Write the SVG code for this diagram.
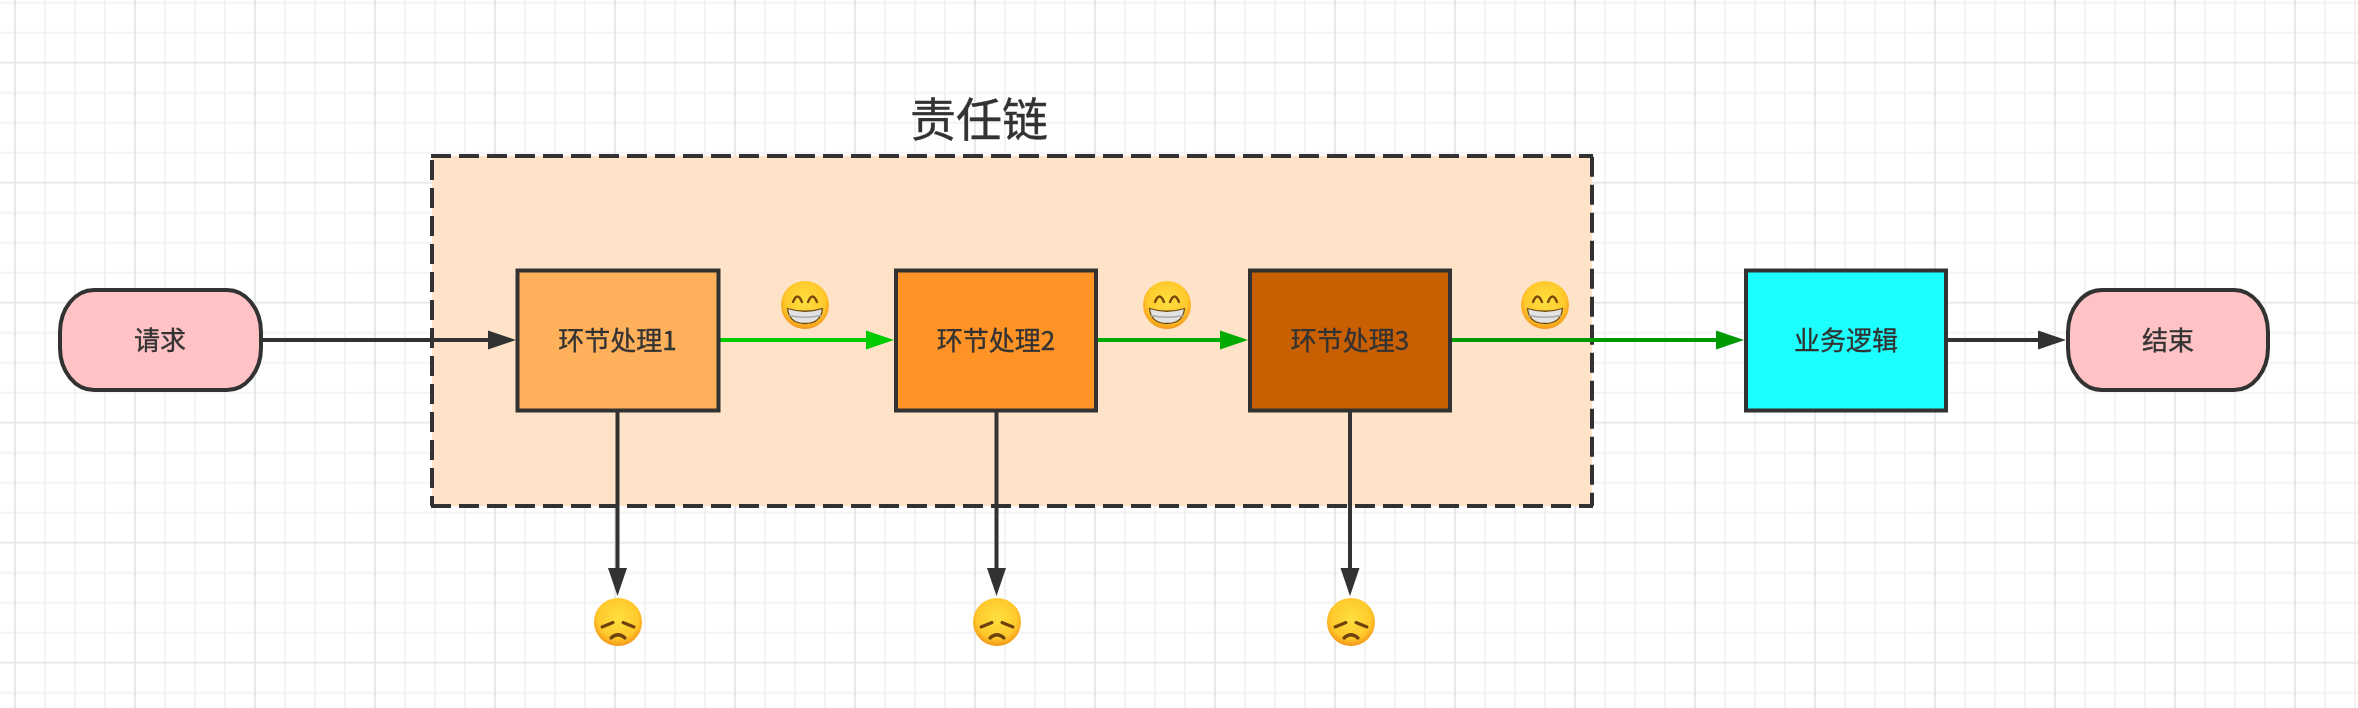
<svg xmlns="http://www.w3.org/2000/svg" width="2358" height="708" viewBox="0 0 2358 708">
<style>
text{font-family:"Noto Sans CJK SC","Liberation Sans",sans-serif;fill:#333;text-anchor:middle;stroke:#333;stroke-width:0.35}
.lbl{font-size:26px}
.box{stroke:#333;stroke-width:4}
.dash{stroke:#333;stroke-width:4;stroke-dasharray:20 8;fill:none}
.c{fill:none;stroke-width:4}
</style>
<defs>
<pattern id="grid" patternUnits="userSpaceOnUse" x="-60" y="-12.3" width="120" height="120">
<path d="M0 15H120M0 45H120M0 105H120M15 0V120M45 0V120M105 0V120" stroke="#f0f0f0" stroke-width="1.7" fill="none"/>
<path d="M0 75H120M75 0V120" stroke="#e4e4e4" stroke-width="1.7" fill="none"/>
</pattern>
<marker id="ak" markerUnits="userSpaceOnUse" markerWidth="28" markerHeight="22" refX="20" refY="11" orient="auto"><path d="M0 1.5L28 11L0 20.5Z" fill="#333"/></marker>
<marker id="ag1" markerUnits="userSpaceOnUse" markerWidth="28" markerHeight="22" refX="20" refY="11" orient="auto"><path d="M0 1.5L28 11L0 20.5Z" fill="#00cc00"/></marker>
<marker id="ag2" markerUnits="userSpaceOnUse" markerWidth="28" markerHeight="22" refX="20" refY="11" orient="auto"><path d="M0 1.5L28 11L0 20.5Z" fill="#00aa00"/></marker>
<marker id="ag3" markerUnits="userSpaceOnUse" markerWidth="28" markerHeight="22" refX="20" refY="11" orient="auto"><path d="M0 1.5L28 11L0 20.5Z" fill="#009900"/></marker>
<filter id="soft" filterUnits="userSpaceOnUse" x="0" y="0" width="2358" height="708"><feGaussianBlur stdDeviation="0.6"/></filter>
<radialGradient id="face" cx="0.5" cy="0.42" r="0.58">
<stop offset="0" stop-color="#ffdf3f"/><stop offset="0.72" stop-color="#ffc92c"/><stop offset="0.95" stop-color="#f7a01c"/><stop offset="1" stop-color="#ec8f18"/>
</radialGradient>
<g id="smile">
<circle r="24" fill="url(#face)"/>
<path d="M-12 -3Q-7.5 -14 -3 -3M3 -3Q7.5 -14 12 -3" fill="none" stroke="#7a4a0c" stroke-width="2.4" stroke-linecap="round"/>
<path d="M-17.5 3.5Q0 9 17.5 3.5Q16 18.5 0 18.5Q-16 18.5 -17.5 3.5Z" fill="#e2e2e2" stroke="#6f4c12" stroke-width="1.3"/>
<path d="M-16.5 10.5Q0 14 16.5 10.5" fill="none" stroke="#a9a9a9" stroke-width="1.4"/>
</g>
<g id="sad">
<circle r="24" fill="url(#face)"/>
<path d="M-16 5L-5 0.5M16 5L5 0.5" fill="none" stroke="#6d430c" stroke-width="3" stroke-linecap="round"/>
<path d="M-7 16Q0 9.5 7 16" fill="none" stroke="#6d430c" stroke-width="3.2" stroke-linecap="round"/>
</g>
</defs>
<rect width="2358" height="708" fill="#fff"/>
<rect width="2358" height="708" fill="url(#grid)"/>
<g filter="url(#soft)">
<g id="chain">
<rect x="432" y="156" width="1160" height="350" fill="#ffe3c8"/>
<path class="dash" d="M431 156H1593"/>
<path class="dash" d="M432 160V506"/>
<path class="dash" d="M1592 156.7V506"/>
<path class="dash" d="M431 506H1593"/>
<text x="979" y="136" font-size="46">责任链</text>
</g>
<g id="connectors">
<path class="c" stroke="#333" marker-end="url(#ak)" d="M261 340H508"/>
<path class="c" stroke="#00cc00" marker-end="url(#ag1)" d="M718 340H886"/>
<path class="c" stroke="#00aa00" marker-end="url(#ag2)" d="M1096 340H1240"/>
<path class="c" stroke="#009900" marker-end="url(#ag3)" d="M1450 340H1736"/>
<path class="c" stroke="#333" marker-end="url(#ak)" d="M1946 340H2058"/>
<path class="c" stroke="#333" marker-end="url(#ak)" d="M617.5 410V588"/>
<path class="c" stroke="#333" marker-end="url(#ak)" d="M996.5 410V588"/>
<path class="c" stroke="#333" marker-end="url(#ak)" d="M1350 410V588"/>
</g>
<g id="start"><rect class="box" x="60" y="290" width="201" height="100" rx="34" ry="42" fill="#ffc2c5"/><text class="lbl" x="160" y="350">请求</text></g>
<g id="step1"><rect class="box" x="517.5" y="270.5" width="201" height="140" fill="#ffb05a"/><text class="lbl" x="617.5" y="350">环节处理1</text></g>
<g id="step2"><rect class="box" x="896" y="270.5" width="200" height="140" fill="#ff9326"/><text class="lbl" x="996" y="350">环节处理2</text></g>
<g id="step3"><rect class="box" x="1250" y="270.5" width="200" height="140" fill="#c85e00"/><text class="lbl" x="1350" y="350">环节处理3</text></g>
<g id="business"><rect class="box" x="1746" y="270.5" width="200" height="140" fill="#1affff"/><text class="lbl" x="1846" y="350">业务逻辑</text></g>
<g id="end"><rect class="box" x="2068" y="290" width="200" height="100" rx="34" ry="42" fill="#ffc2c5"/><text class="lbl" x="2168" y="350">结束</text></g>
<g id="smile1"><use href="#smile" x="805" y="305"/></g>
<g id="smile2"><use href="#smile" x="1167" y="305"/></g>
<g id="smile3"><use href="#smile" x="1545" y="305"/></g>
<g id="sad1"><use href="#sad" x="618" y="622"/></g>
<g id="sad2"><use href="#sad" x="997" y="622"/></g>
<g id="sad3"><use href="#sad" x="1351" y="622"/></g>
</g>
</svg>
